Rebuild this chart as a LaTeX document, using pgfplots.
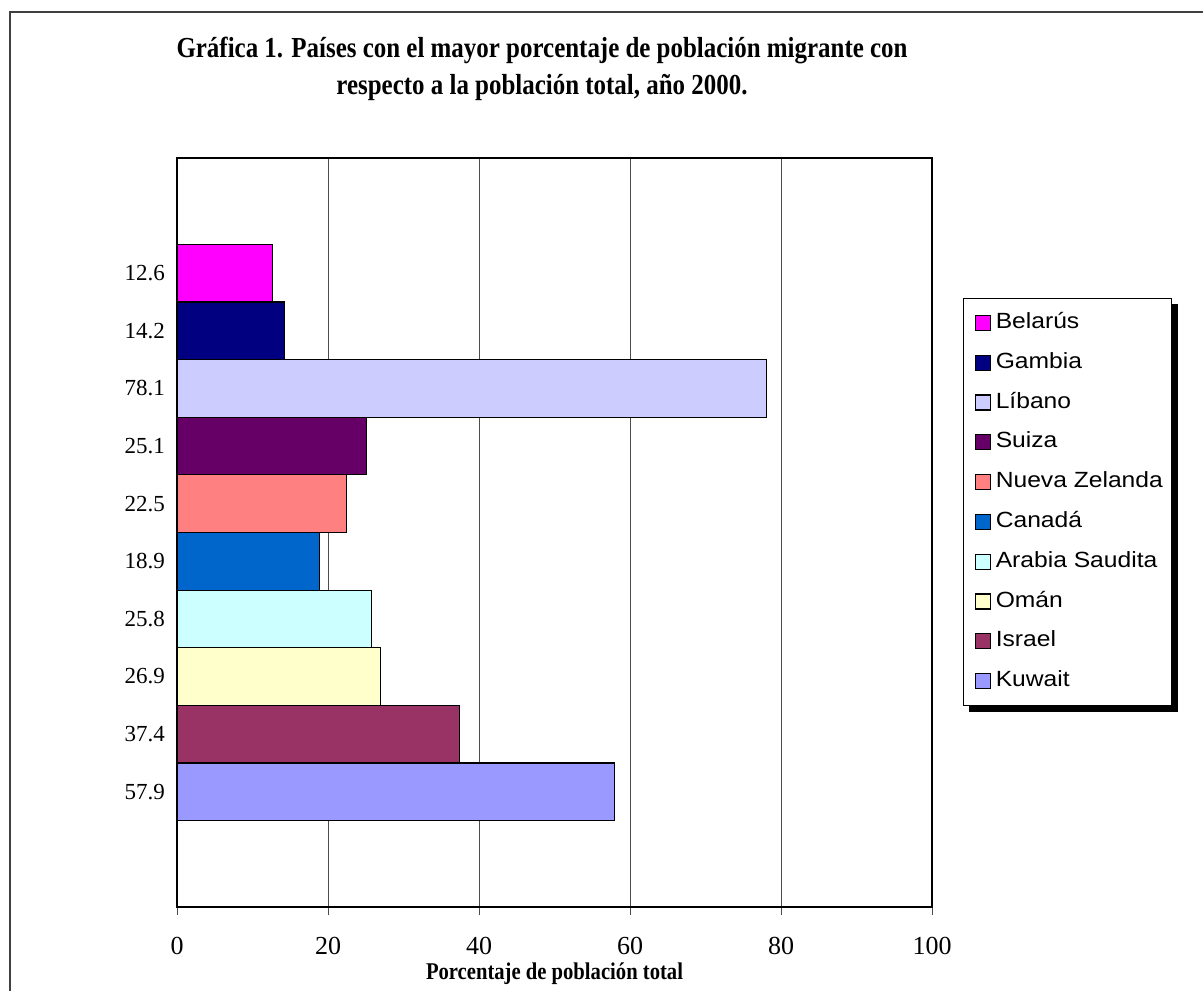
\documentclass[border=0pt]{standalone}
\usepackage{pgfplots}
\pgfplotsset{compat=1.18}
\usepackage{fontspec}
\setmainfont{Liberation Serif}
\newfontfamily\arialfont[FakeStretch=1.12]{Liberation Sans}
\newfontfamily\titlefont[FakeStretch=0.86]{Liberation Serif}
\usetikzlibrary{backgrounds}
\definecolor{cBel}{HTML}{FF00FF}
\definecolor{cGam}{HTML}{000080}
\definecolor{cLib}{HTML}{CCCCFF}
\definecolor{cSui}{HTML}{660066}
\definecolor{cNZ}{HTML}{FF8080}
\definecolor{cCan}{HTML}{0066CC}
\definecolor{cAra}{HTML}{CCFFFF}
\definecolor{cOma}{HTML}{FFFFCC}
\definecolor{cIsr}{HTML}{993366}
\definecolor{cKuw}{HTML}{9999FF}
\pgfplotsset{mybar/.style={xbar, bar width=1, bar shift=0pt, draw=black, line width=0.6pt,
  legend image code/.code={\path (0pt,0pt); \draw[##1, draw=black, line width=0.6pt] (2pt,-3.75pt) rectangle (9.5pt,3.75pt);}}}
\begin{document}
\begin{tikzpicture}
\useasboundingbox (0,0) rectangle (601.5pt,495pt);
\draw[line width=1pt, color=black!75] (5pt,-20pt) -- (5pt,489pt) -- (620pt,489pt);
\node[align=center, font=\titlefont\fontsize{14.5}{18.5}\selectfont\bfseries] at (271pt,460.75pt)
  {Gráfica 1. Países con el mayor porcentaje de población migrante con\\respecto a la población total, año 2000.};
\begin{axis}[
  at={(88.5pt,41.5pt)}, anchor=south west,
  scale only axis, width=377.5pt, height=374.5pt,
  xmin=0, xmax=100, ymin=0, ymax=13,
  xtick={0,20,40,60,80,100},
  ytick={2,3,4,5,6,7,8,9,10,11},
  yticklabels={57.9,37.4,26.9,25.8,18.9,22.5,25.1,78.1,14.2,12.6},
  /pgf/number format/assume math mode=true,
  axis line style={black, line width=0.6pt},
  xmajorgrids, grid style={black!70, line width=0.5pt},
  tick align=outside, major tick length=4pt,
  xtick pos=bottom,
  xtick style={draw=black!70, line width=0.5pt},
  ytick style={draw=none},
  xticklabel style={font=\fontsize{13}{13}\selectfont, anchor=center, yshift=-15.5pt},
  yticklabel style={font=\fontsize{11.5}{11.5}\selectfont, anchor=east, xshift=1.5pt},
  xlabel={Porcentaje de población total},
  xlabel style={font=\titlefont\fontsize{12}{12}\selectfont\bfseries, at={(axis description cs:0.5,0)}, anchor=center, yshift=-33.5pt},
  legend style={name=leg, at={(1.041,0.813)}, anchor=north west, draw=black, line width=0.6pt, fill=white,
    font=\arialfont\fontsize{11}{13}\selectfont,
    inner xsep=3.5pt, inner ysep=5.9pt, row sep=7.4pt,
    nodes={inner sep=1pt, text height=8pt, text depth=2.5pt},
    /tikz/every odd column/.append style={column sep=1.5pt},
    /tikz/every even column/.append style={column sep=0pt}},
  legend cell align=left,
]
\addplot[mybar, fill=cBel] coordinates {(12.6,11)};
\addlegendentry{Belarús}
\addplot[mybar, fill=cGam] coordinates {(14.2,10)};
\addlegendentry{Gambia}
\addplot[mybar, fill=cLib] coordinates {(78.1,9)};
\addlegendentry{Líbano}
\addplot[mybar, fill=cSui] coordinates {(25.1,8)};
\addlegendentry{Suiza}
\addplot[mybar, fill=cNZ] coordinates {(22.5,7)};
\addlegendentry{Nueva Zelanda}
\addplot[mybar, fill=cCan] coordinates {(18.9,6)};
\addlegendentry{Canadá}
\addplot[mybar, fill=cAra] coordinates {(25.8,5)};
\addlegendentry{Arabia Saudita}
\addplot[mybar, fill=cOma] coordinates {(26.9,4)};
\addlegendentry{Omán}
\addplot[mybar, fill=cIsr] coordinates {(37.4,3)};
\addlegendentry{Israel}
\addplot[mybar, fill=cKuw] coordinates {(57.9,2)};
\addlegendentry{Kuwait}
\end{axis}
\begin{pgfonlayer}{background}
\fill[black] ([xshift=3pt,yshift=-3pt]leg.south west) rectangle ([xshift=3pt,yshift=-3pt]leg.north east);
\end{pgfonlayer}
\end{tikzpicture}
\end{document}
